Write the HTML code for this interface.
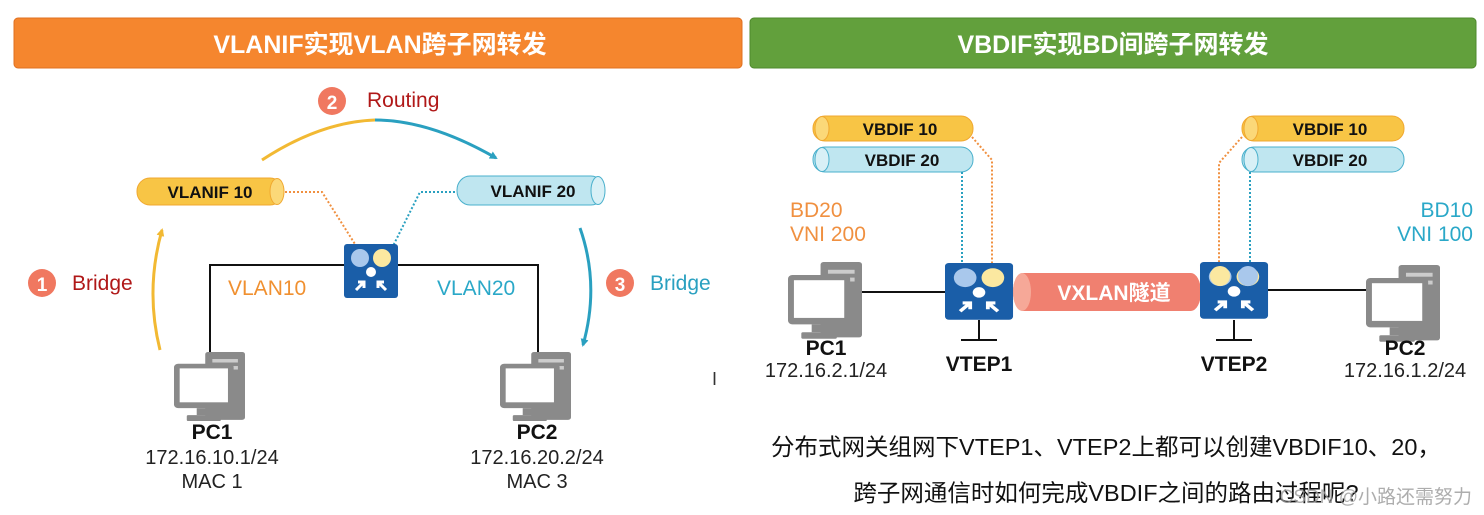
<!DOCTYPE html>
<html><head><meta charset="utf-8"><style>
html,body{margin:0;padding:0;background:#fff;}
svg{display:block;}
text{font-family:"Liberation Sans","Noto Sans CJK SC",sans-serif;}
</style></head><body>
<svg width="1484" height="515" viewBox="0 0 1484 515" xmlns="http://www.w3.org/2000/svg">
<defs>
<g id="pc">
 <rect x="22" y="0" width="28" height="58" rx="2" fill="#8a8a8a"/>
 <rect x="27" y="6" width="18" height="3" fill="#ccc"/>
 <rect x="27" y="12" width="18" height="3" fill="#ccc"/>
 <rect x="0" y="10" width="42" height="38" rx="3" fill="#8a8a8a"/>
 <rect x="4" y="14" width="34" height="29" fill="#fff"/>
 <rect x="16" y="48" width="10" height="6" fill="#8a8a8a"/>
 <rect x="9" y="54" width="24" height="5" rx="1" fill="#8a8a8a"/>
</g>
<g id="sw">
 <rect x="0" y="0" width="54" height="54" rx="3" fill="#1a5ea8"/>
 <circle cx="16" cy="14" r="9" fill="#a9c8ec"/>
 <circle cx="38" cy="14" r="9" fill="#fbe8a0"/>
 <circle cx="27" cy="28" r="5" fill="#fff"/>
 <path d="M12 46 L20 38 M14 38 h6 v6" stroke="#fff" stroke-width="3" fill="none"/>
 <path d="M42 46 L34 38 M40 38 h-6 v6" stroke="#fff" stroke-width="3" fill="none"/>
</g>
<marker id="ab" markerWidth="8" markerHeight="8" refX="6" refY="4" orient="auto" markerUnits="userSpaceOnUse"><path d="M0 0 L8 4 L0 8Z" fill="#2aa0c0"/></marker>
<marker id="ay" markerWidth="8" markerHeight="8" refX="6" refY="4" orient="auto" markerUnits="userSpaceOnUse"><path d="M0 0 L8 4 L0 8Z" fill="#f2b933"/></marker>
</defs>

<rect x="14" y="18" width="728" height="50" rx="4" fill="#f5862e" stroke="#e07020"/>
<text x="380" y="53" text-anchor="middle" font-size="25" font-weight="bold" fill="#fff">VLANIF实现VLAN跨子网转发</text>
<rect x="750" y="18" width="726" height="50" rx="4" fill="#62a03c" stroke="#4e8a2c"/>
<text x="1113" y="53" text-anchor="middle" font-size="25" font-weight="bold" fill="#fff">VBDIF实现BD间跨子网转发</text>

<path d="M262 160 Q320 122 375 120" stroke="#f2b933" stroke-width="3" fill="none"/>
<path d="M375 120 Q430 120 496 158" stroke="#2aa0c0" stroke-width="3" fill="none" marker-end="url(#ab)"/>
<path d="M160 350 Q145 290 162 230" stroke="#f2b933" stroke-width="3" fill="none" marker-end="url(#ay)"/>
<path d="M580 228 Q600 285 583 345" stroke="#2aa0c0" stroke-width="3" fill="none" marker-end="url(#ab)"/>

<circle cx="42" cy="283" r="14" fill="#f07860"/><text x="42" y="291" text-anchor="middle" font-size="19" font-weight="bold" fill="#fff">1</text>
<text x="72" y="290" font-size="21" fill="#b01818">Bridge</text>
<circle cx="332" cy="101" r="14" fill="#f07860"/><text x="332" y="109" text-anchor="middle" font-size="19" font-weight="bold" fill="#fff">2</text>
<text x="367" y="107" font-size="21" fill="#b01818">Routing</text>
<circle cx="620" cy="283" r="14" fill="#f07860"/><text x="620" y="291" text-anchor="middle" font-size="19" font-weight="bold" fill="#fff">3</text>
<text x="650" y="290" font-size="21" fill="#2aa0c0">Bridge</text>

<rect x="137" y="178" width="146" height="27" rx="13" ry="13" fill="#f8c545" stroke="#f0a830"/>
<ellipse cx="277" cy="191.5" rx="7" ry="13" fill="#fbd878" stroke="#f0a830"/>
<text x="210" y="198" text-anchor="middle" font-size="17" font-weight="bold" fill="#111">VLANIF 10</text>
<rect x="457" y="176" width="147" height="29" rx="13" ry="14" fill="#bfe6f0" stroke="#4ab0cc"/>
<ellipse cx="598" cy="190.5" rx="7" ry="14" fill="#d8f0f6" stroke="#4ab0cc"/>
<text x="533" y="197" text-anchor="middle" font-size="17" font-weight="bold" fill="#111">VLANIF 20</text>

<path d="M285 192 H322 L360 252" stroke="#f09040" stroke-width="2" stroke-dasharray="2 2" fill="none"/>
<path d="M455 192 H420 L390 252" stroke="#2aa0c0" stroke-width="2" stroke-dasharray="2 2" fill="none"/>

<path d="M210 355 V265 H538 V355" stroke="#111" stroke-width="2" fill="none"/>
<use href="#sw" x="344" y="244"/>
<text x="228" y="295" font-size="21" fill="#f09030">VLAN10</text>
<text x="437" y="295" font-size="21" fill="#2aa8c8">VLAN20</text>

<g transform="translate(174,352) scale(1.42,1.17)"><use href="#pc"/></g>
<g transform="translate(500,352) scale(1.42,1.17)"><use href="#pc"/></g>
<text x="212" y="439" text-anchor="middle" font-size="21" font-weight="bold" fill="#111">PC1</text>
<text x="212" y="464" text-anchor="middle" font-size="20" fill="#222">172.16.10.1/24</text>
<text x="212" y="488" text-anchor="middle" font-size="20" fill="#222">MAC 1</text>
<text x="537" y="439" text-anchor="middle" font-size="21" font-weight="bold" fill="#111">PC2</text>
<text x="537" y="464" text-anchor="middle" font-size="20" fill="#222">172.16.20.2/24</text>
<text x="537" y="488" text-anchor="middle" font-size="20" fill="#222">MAC 3</text>
<text x="712" y="385" font-size="18" fill="#333">I</text>

<rect x="813" y="116" width="160" height="25" rx="12" fill="#f8c545" stroke="#f0a830"/>
<ellipse cx="822" cy="128.5" rx="7" ry="12" fill="#fbd878" stroke="#f0a830"/>
<text x="900" y="135" text-anchor="middle" font-size="17" font-weight="bold" fill="#111">VBDIF 10</text>
<rect x="813" y="147" width="160" height="25" rx="12" fill="#bfe6f0" stroke="#4ab0cc"/>
<ellipse cx="822" cy="159.5" rx="7" ry="12" fill="#d8f0f6" stroke="#4ab0cc"/>
<text x="902" y="166" text-anchor="middle" font-size="17" font-weight="bold" fill="#111">VBDIF 20</text>
<rect x="1242" y="116" width="162" height="25" rx="12" fill="#f8c545" stroke="#f0a830"/>
<ellipse cx="1251" cy="128.5" rx="7" ry="12" fill="#fbd878" stroke="#f0a830"/>
<text x="1330" y="135" text-anchor="middle" font-size="17" font-weight="bold" fill="#111">VBDIF 10</text>
<rect x="1242" y="147" width="162" height="25" rx="12" fill="#bfe6f0" stroke="#4ab0cc"/>
<ellipse cx="1251" cy="159.5" rx="7" ry="12" fill="#d8f0f6" stroke="#4ab0cc"/>
<text x="1330" y="166" text-anchor="middle" font-size="17" font-weight="bold" fill="#111">VBDIF 20</text>

<path d="M972 137 L992 160 V268" stroke="#f09040" stroke-width="2" stroke-dasharray="2 2" fill="none"/>
<path d="M962 172 V268" stroke="#2aa0c0" stroke-width="2" stroke-dasharray="2 2" fill="none"/>
<path d="M1242 137 L1219 163 V268" stroke="#f09040" stroke-width="2" stroke-dasharray="2 2" fill="none"/>
<path d="M1250 172 V268" stroke="#2aa0c0" stroke-width="2" stroke-dasharray="2 2" fill="none"/>

<text x="790" y="217" font-size="21" fill="#f09040">BD20</text>
<text x="790" y="241" font-size="21" fill="#f09040">VNI 200</text>
<text x="1473" y="217" text-anchor="end" font-size="21" fill="#2aa8c8">BD10</text>
<text x="1473" y="241" text-anchor="end" font-size="21" fill="#2aa8c8">VNI 100</text>

<path d="M862 292 H946" stroke="#111" stroke-width="2"/>
<path d="M1268 290 H1370" stroke="#111" stroke-width="2"/>
<rect x="1013" y="273" width="188" height="38" rx="10" ry="19" fill="#f08070"/>
<ellipse cx="1022" cy="292" rx="9" ry="19" fill="#f6a898"/>
<text x="1114" y="300" text-anchor="middle" font-size="21" font-weight="bold" fill="#fff">VXLAN隧道</text>
<g transform="translate(945,263) scale(1.26,1.05)"><use href="#sw"/></g>
<g transform="translate(1200,262) scale(1.26,1.05)"><use href="#sw"/></g>
<circle cx="1220" cy="276" r="10" fill="#fbe8a0"/><circle cx="1248" cy="276" r="10" fill="#a9c8ec"/>
<path d="M979 320 V340 M961 340 H997" stroke="#111" stroke-width="2"/>
<path d="M1234 320 V340 M1216 340 H1252" stroke="#111" stroke-width="2"/>
<g transform="translate(788,262) scale(1.48,1.3)"><use href="#pc"/></g>
<g transform="translate(1366,265) scale(1.48,1.3)"><use href="#pc"/></g>
<text x="826" y="355" text-anchor="middle" font-size="21" font-weight="bold" fill="#111">PC1</text>
<text x="826" y="377" text-anchor="middle" font-size="20" fill="#222">172.16.2.1/24</text>
<text x="979" y="371" text-anchor="middle" font-size="21" font-weight="bold" fill="#111">VTEP1</text>
<text x="1234" y="371" text-anchor="middle" font-size="21" font-weight="bold" fill="#111">VTEP2</text>
<text x="1405" y="355" text-anchor="middle" font-size="21" font-weight="bold" fill="#111">PC2</text>
<text x="1405" y="377" text-anchor="middle" font-size="20" fill="#222">172.16.1.2/24</text>

<text x="1106" y="455" text-anchor="middle" font-size="23.5" fill="#111">分布式网关组网下VTEP1、VTEP2上都可以创建VBDIF10、20，</text>
<text x="1106" y="501" text-anchor="middle" font-size="23.5" fill="#111">跨子网通信时如何完成VBDIF之间的路由过程呢?</text>
<text x="1472" y="503" text-anchor="end" font-size="19" fill="#999" opacity="0.8">CSDN @小路还需努力</text>
</svg>
</body></html>
